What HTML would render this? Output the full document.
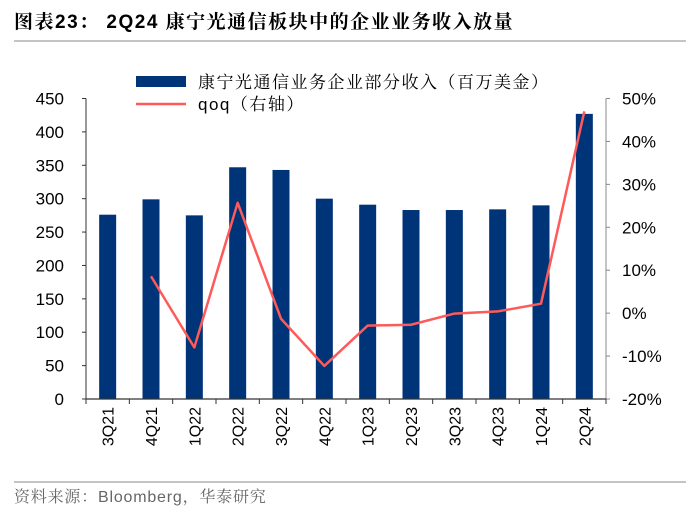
<!DOCTYPE html>
<html><head><meta charset="utf-8"><style>
body{margin:0;background:#fff;font-family:"Liberation Sans","Noto Sans CJK SC",sans-serif}
svg text{font-family:"Liberation Sans","Noto Sans CJK SC",sans-serif}
svg text.serif{font-family:"Liberation Sans","Noto Serif CJK SC",serif}
</style></head><body>
<svg id="c" width="700" height="514" xmlns="http://www.w3.org/2000/svg">
<text class="serif" x="14" y="28" font-size="19" font-weight="bold" letter-spacing="1.5" fill="#000">图表23：  2Q24 康宁光通信板块中的企业业务收入放量</text>
<line x1="14" y1="41" x2="686" y2="41" stroke="#8a8a8a" stroke-width="1"/>
<line x1="14" y1="482" x2="686" y2="482" stroke="#8a8a8a" stroke-width="1"/>
<text class="serif" x="14" y="502" font-size="16" letter-spacing="0.8" fill="#666">资料来源：Bloomberg，华泰研究</text>
<g>
<rect x="136" y="76" width="50" height="11" fill="#003478"/>
<text class="serif" x="198" y="88" font-size="17" letter-spacing="1.5" fill="#000">康宁光通信业务企业部分收入（百万美金）</text>
<line x1="136" y1="104" x2="186" y2="104" stroke="#ff5a5a" stroke-width="2.5"/>
<text class="serif" x="198" y="110" font-size="17" letter-spacing="1.5" fill="#000">qoq（右轴）</text>
</g>
<g id="plot"></g>
</svg>
<script>
const categories=["3Q21","4Q21","1Q22","2Q22","3Q22","4Q22","1Q23","2Q23","3Q23","4Q23","1Q24","2Q24"];
const revenue=[276,299,275,347,343,300,291,283,283,284,290,427];
const qoq=[null,8.6,-8.0,25.7,-1.3,-12.3,-2.9,-2.7,-0.1,0.4,2.2,47];
const leftTicks=[0,50,100,150,200,250,300,350,400,450];
const rightTicks=[-20,-10,0,10,20,30,40,50];
const NS="http://www.w3.org/2000/svg";
const L=86,R=606,T=98.5,B=399;
const bw=(R-L)/categories.length;
const yL=v=>B-(v/450)*(B-T);
const yR=v=>B-((v+20)/70)*(B-T);
const xC=i=>L+bw*(i+0.5);
const g=document.getElementById('plot');
function mk(t,a){const e=document.createElementNS(NS,t);for(const k in a)e.setAttribute(k,a[k]);g.appendChild(e);return e;}
revenue.forEach((v,i)=>{
 const r=mk('rect',{x:xC(i)-8.5,y:yL(v),width:17,height:B-yL(v),fill:'#003478'});
 
 
});
let ax=mk('line',{x1:L,y1:T,x2:L,y2:B,stroke:'#333','stroke-width':1});


ax=mk('line',{x1:R,y1:T,x2:R,y2:B,stroke:'#888','stroke-width':1});


ax=mk('line',{x1:L,y1:B,x2:R,y2:B,stroke:'#333','stroke-width':1.2});


leftTicks.forEach(v=>{
 mk('line',{x1:L-4,y1:yL(v),x2:L,y2:yL(v),stroke:'#333'});
 const t=mk('text',{x:L-22,y:yL(v)+6,'font-size':17,'text-anchor':'end',fill:'#000'});
 t.textContent=v;
 
 
});
rightTicks.forEach(v=>{
 mk('line',{x1:R,y1:yR(v),x2:R+4,y2:yR(v),stroke:'#888'});
 const t=mk('text',{x:R+16,y:yR(v)+6,'font-size':17,fill:'#000'});
 t.textContent=v+'%';
 
 
});
for(let i=0;i<=categories.length;i++){mk('line',{x1:L+bw*i,y1:B,x2:L+bw*i,y2:B+5,stroke:'#333'});}
categories.forEach((c,i)=>{
 const t=mk('text',{x:0,y:0,'font-size':16,'text-anchor':'end',fill:'#000',transform:`translate(${xC(i)+6},${B+8}) rotate(-90)`});
 t.textContent=c;
 
 
});
const pts=[];qoq.forEach((v,i)=>{if(v!==null)pts.push(xC(i)+','+yR(v));});
const pl=mk('polyline',{points:pts.join(' '),fill:'none',stroke:'#ff5a5a','stroke-width':2.5,'stroke-linejoin':'round'});


</script>
</body></html>
